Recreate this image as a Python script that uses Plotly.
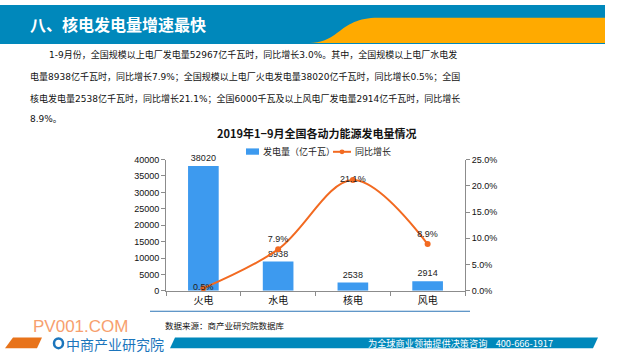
import plotly.graph_objects as go

# ---------------- data ----------------
categories = ["火电", "水电", "核电", "风电"]
generation = [38020, 8938, 2538, 2914]          # 发电量（亿千瓦）
growth = [0.5, 7.9, 21.1, 8.9]                  # 同比增长 %
left_ticks = [0, 5000, 10000, 15000, 20000, 25000, 30000, 35000, 40000]
right_ticks = [0, 5, 10, 15, 20, 25]
right_tick_labels = ["0.0%", "5.0%", "10.0%", "15.0%", "20.0%", "25.0%"]

series_names = ["发电量（亿千瓦）", "同比增长"]
slide_title = "八、核电发电量增速最快"
chart_title = "<b>2019年1−9月全国各动力能源发电量情况</b>"
paragraph = [
    "1-9月份，全国规模以上电厂发电量52967亿千瓦时，同比增长3.0%。其中，全国规模以上电厂水电发",
    "电量8938亿千瓦时，同比增长7.9%；全国规模以上电厂火电发电量38020亿千瓦时，同比增长0.5%；全国",
    "核电发电量2538亿千瓦时，同比增长21.1%；全国6000千瓦及以上风电厂发电量2914亿千瓦时，同比增长",
    "8.9%。",
]
source_text = "数据来源：商产业研究院数据库"
footer_text = "为全球商业领袖提供决策咨询    400-666-1917"

W, H = 640, 360
FONT = "Noto Sans CJK SC"
TXTFONT = "DejaVu Sans, Noto Sans CJK SC"
NUMFONT = "Liberation Sans"
BAR_COLOR = "#3D9AEF"
LINE_COLOR = "#F26A21"


def px(x):
    return x / W


def py(y):
    return 1 - y / H


fig = go.Figure()
fig.add_trace(go.Bar(
    x=categories, y=generation, name=series_names[0], showlegend=False,
    marker=dict(color=BAR_COLOR, line=dict(width=0)),
    text=[str(v) for v in generation], textposition="outside",
    textfont=dict(size=9, color="#222", family=NUMFONT), cliponaxis=False,
))
fig.add_trace(go.Scatter(
    x=categories, y=growth, yaxis="y2", name=series_names[1], showlegend=False,
    mode="lines+markers+text",
    line=dict(color=LINE_COLOR, width=2, shape="spline", smoothing=1.0),
    marker=dict(size=6, color=LINE_COLOR),
    text=[f"{v}%" for v in growth],
    textposition=["middle center", "top center", "middle center", "top center"],
    textfont=dict(size=9, color="#222", family=NUMFONT), cliponaxis=False,
))

shapes = []
# top title bar
shapes.append(dict(type="rect", xref="paper", yref="paper", x0=px(0), x1=px(605), y0=py(40), y1=py(0),
                   fillcolor="#0088BB", line=dict(width=0), layer="below"))
orange_path = (f"M {px(605)},{py(13)} L {px(378)},{py(13)} "
               f"C {px(358)},{py(13)} {px(348)},{py(20)} {px(338)},{py(28)} "
               f"C {px(328)},{py(36)} {px(320)},{py(39)} {px(310)},{py(39)} "
               f"L {px(605)},{py(39)} Z")
shapes.append(dict(type="path", xref="paper", yref="paper", path=orange_path,
                   fillcolor="#FFAA00", line=dict(width=0), layer="below"))
# legend symbols
shapes.append(dict(type="rect", xref="paper", yref="paper", x0=px(246), x1=px(259), y0=py(154), y1=py(147.5),
                   fillcolor=BAR_COLOR, line=dict(width=0)))
shapes.append(dict(type="line", xref="paper", yref="paper", x0=px(333), x1=px(351), y0=py(151), y1=py(151),
                   line=dict(color=LINE_COLOR, width=2)))
shapes.append(dict(type="circle", xref="paper", yref="paper", x0=px(339.5), x1=px(344.5), y0=py(153.5), y1=py(148.5),
                   fillcolor=LINE_COLOR, line=dict(width=0)))
# source separator line
shapes.append(dict(type="line", xref="paper", yref="paper", x0=px(150), x1=px(470), y0=py(315), y1=py(315),
                   line=dict(color="#2E75B6", width=1)))
# footer orange parallelogram
shapes.append(dict(type="path", xref="paper", yref="paper",
                   path=f"M {px(5)},{py(353)} L {px(13)},{py(342)} L {px(42)},{py(342)} L {px(37)},{py(353)} Z",
                   fillcolor="#E8731A", line=dict(width=0)))
# footer blue bar
shapes.append(dict(type="path", xref="paper", yref="paper",
                   path=f"M {px(170)},{py(353)} L {px(175)},{py(342)} L {px(598)},{py(342)} L {px(593)},{py(353)} Z",
                   fillcolor="#0088BB", line=dict(width=0)))
# logo ring
shapes.append(dict(type="circle", xref="paper", yref="paper", x0=px(54), x1=px(63), y0=py(353), y1=py(343),
                   line=dict(color="#1B75BC", width=2.5)))

ann = []
ann.append(dict(text=f"<b>{slide_title}</b>", x=px(28), y=py(20), xref="paper", yref="paper",
                xanchor="left", yanchor="middle", showarrow=False,
                font=dict(size=16, color="white", family=FONT)))
line_y = [51, 74, 96, 117]
line_x = [47, 28, 28, 28]
for t, yy, xx in zip(paragraph, line_y, line_x):
    ann.append(dict(text=t, x=px(xx), y=py(yy), xref="paper", yref="paper",
                    xanchor="left", yanchor="middle", showarrow=False,
                    font=dict(size=9, color="#111", family=TXTFONT)))
ann.append(dict(text=chart_title, x=px(316), y=py(132), xref="paper", yref="paper",
                xanchor="center", yanchor="middle", showarrow=False,
                font=dict(size=11, color="#111", family=FONT)))
# legend texts
ann.append(dict(text=series_names[0], x=px(261), y=py(151), xref="paper", yref="paper",
                xanchor="left", yanchor="middle", showarrow=False,
                font=dict(size=9, color="#222", family=FONT)))
ann.append(dict(text=series_names[1], x=px(353), y=py(151), xref="paper", yref="paper",
                xanchor="left", yanchor="middle", showarrow=False,
                font=dict(size=9, color="#222", family=FONT)))
ann.append(dict(text=source_text, x=px(163), y=py(329), xref="paper", yref="paper",
                xanchor="left", yanchor="middle", showarrow=False,
                font=dict(size=8.5, color="#111", family=FONT)))
ann.append(dict(text="PV001.COM", x=px(31), y=py(331), xref="paper", yref="paper",
                xanchor="left", yanchor="middle", showarrow=False,
                font=dict(size=17, color="#F7A06E", family=NUMFONT)))
ann.append(dict(text="中商产业研究院", x=px(64), y=py(348.5), xref="paper", yref="paper",
                xanchor="left", yanchor="middle", showarrow=False,
                font=dict(size=14, color="#1B75BC", family=FONT)))
ann.append(dict(text=footer_text, x=px(555), y=py(347.5), xref="paper", yref="paper",
                xanchor="right", yanchor="middle", showarrow=False,
                font=dict(size=9.2, color="white", family=FONT)))

fig.update_layout(
    width=W, height=H, margin=dict(l=0, r=0, t=0, b=0),
    paper_bgcolor="white", plot_bgcolor="white",
    font=dict(family=FONT, color="#111"),
    bargap=0.59,
    showlegend=False,
    xaxis=dict(domain=[px(166), px(465)], showline=True, linecolor="#8C8C8C", linewidth=1,
               ticks="outside", tickson="boundaries", ticklen=4, tickcolor="#8C8C8C",
               tickfont=dict(size=10, family=FONT), showgrid=False, fixedrange=True),
    yaxis=dict(domain=[py(294), py(159)], range=[0, 40000], tickvals=left_ticks, tickformat="d",
               showline=True, linecolor="#8C8C8C", ticks="outside", ticklen=4, tickcolor="#8C8C8C",
               tickfont=dict(size=9, family=NUMFONT), showgrid=False, zeroline=False),
    yaxis2=dict(overlaying="y", side="right", anchor="x", range=[0, 25],
                tickvals=right_ticks, ticktext=right_tick_labels,
                showline=True, linecolor="#8C8C8C", ticks="outside", ticklen=4, tickcolor="#8C8C8C",
                tickfont=dict(size=9, family=NUMFONT), showgrid=False, zeroline=False),
    shapes=shapes,
    annotations=ann,
)

fig.write_html("out.html", config={"displayModeBar": False},
               post_script="document.body.style.margin='0px';")
